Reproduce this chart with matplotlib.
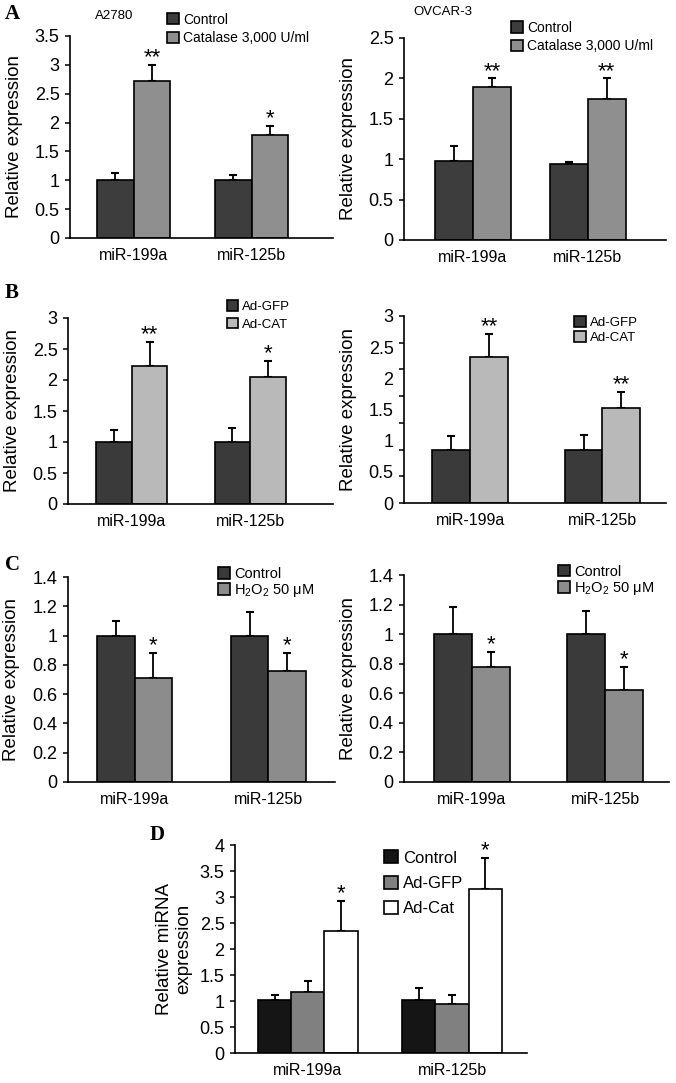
import numpy as np
import matplotlib
matplotlib.use('Agg')
import matplotlib.pyplot as plt

plt.rcParams['font.family'] = ['Liberation Sans', 'DejaVu Sans']
plt.rcParams['mathtext.fontset'] = 'custom'
plt.rcParams['mathtext.rm'] = 'Liberation Sans'
plt.rcParams['mathtext.it'] = 'Liberation Sans:italic'

# data
groups = ['miR-199a', 'miR-125b']

# A - catalase treatment
a2780_ctrl = [1.0, 1.0]
a2780_ctrl_err = [0.13, 0.10]
a2780_cat = [2.72, 1.79]
a2780_cat_err = [0.28, 0.15]
a2780_stars = ['**', '*']

ovcar_ctrl = [0.98, 0.94]
ovcar_ctrl_err = [0.18, 0.02]
ovcar_cat = [1.89, 1.74]
ovcar_cat_err = [0.11, 0.26]
ovcar_stars = ['**', '**']

# B - adenoviral catalase
b_left_gfp = [1.0, 1.0]
b_left_gfp_err = [0.20, 0.22]
b_left_cat = [2.23, 2.05]
b_left_cat_err = [0.38, 0.26]
b_left_stars = ['**', '*']

b_right_gfp = [1.0, 1.0]
b_right_gfp_err = [0.245, 0.28]
b_right_cat = [2.73, 1.78]
b_right_cat_err = [0.43, 0.30]
b_right_stars = ['**', '**']
b_right_ylabels = [0, 0.5, 1, 1.5, 2, 2.5, 3]

# C - H2O2
c_left_ctrl = [1.0, 1.0]
c_left_ctrl_err = [0.10, 0.16]
c_left_h2o2 = [0.71, 0.76]
c_left_h2o2_err = [0.17, 0.12]
c_left_stars = ['*', '*']

c_right_ctrl = [1.0, 1.0]
c_right_ctrl_err = [0.185, 0.155]
c_right_h2o2 = [0.78, 0.625]
c_right_h2o2_err = [0.10, 0.155]
c_right_stars = ['*', '*']

# D
d_ctrl = [1.01, 1.01]
d_ctrl_err = [0.11, 0.24]
d_gfp = [1.17, 0.95]
d_gfp_err = [0.22, 0.17]
d_cat = [2.35, 3.15]
d_cat_err = [0.57, 0.60]
d_stars = ['*', '*']

W, H = 676, 1083
fig = plt.figure(figsize=(W / 100, H / 100), dpi=100)


def px_axes(l, t, r, b):
    return fig.add_axes([l / W, 1 - b / H, (r - l) / W, (b - t) / H])


def draw_panel(ax, series, errs, colors, labels, stars, star_idx,
               width, xlim, ymax, ystep, leg_xy, leg_fs=10, leg_sp=0.25,
               ylabel='Relative expression', ylabel_x=-0.178,
               fake_labels=None):
    x = np.arange(len(groups))
    n = len(series)
    offsets = (np.arange(n) - (n - 1) / 2) * width
    bars = []
    for vals, err, col, lab, off in zip(series, errs, colors, labels, offsets):
        b = ax.bar(x + off, vals, width, color=col, edgecolor='black',
                   linewidth=1.2, label=lab, zorder=2)
        ax.errorbar(x + off, vals, yerr=[np.zeros(len(vals)), err], fmt='none',
                    ecolor='black', elinewidth=1.3, capsize=3, capthick=1.5,
                    zorder=1)
        bars.append(b)
    top = np.array(series[star_idx]) + np.array(errs[star_idx])
    for xi, t, s in zip(x + offsets[star_idx], top, stars):
        ax.annotate(s, xy=(xi, t), xytext=(0, -2.5), textcoords='offset points',
                    ha='center', va='bottom', fontsize=16)

    ax.set_xlim(*xlim)
    ax.set_ylim(0, ymax)
    ticks = np.arange(0, ymax + 1e-9, ystep)
    ax.set_yticks(ticks)
    if fake_labels is None:
        ax.set_yticklabels([f'{v:g}' for v in ticks])
    else:
        # tick labels in the original are spread evenly, not on the ticks
        ax.yaxis.remove_overlapping_locs = False
        ax.set_yticklabels([])
        pos = np.linspace(0, ymax, len(fake_labels))
        ax.set_yticks(pos, minor=True)
        ax.set_yticklabels([f'{v:g}' for v in fake_labels], minor=True)
        ax.tick_params(axis='y', which='minor', length=0, pad=7.5, labelsize=13)
    ax.set_xticks(x)
    ax.set_xticklabels(groups)
    ax.tick_params(axis='x', length=0, pad=7, labelsize=11.5)
    ax.tick_params(axis='y', which='major', direction='out', length=3.5,
                   width=1.1, pad=4, labelsize=13)
    for s in ['top', 'right']:
        ax.spines[s].set_visible(False)
    for s in ['left', 'bottom']:
        ax.spines[s].set_linewidth(1.2)
    ax.set_ylabel(ylabel, fontsize=13.5)
    ax.yaxis.set_label_coords(ylabel_x, 0.5)
    ax.legend(handles=bars, loc='upper left', bbox_to_anchor=leg_xy,
              frameon=False, fontsize=leg_fs, handlelength=0.85,
              handleheight=0.85, handletextpad=0.3, labelspacing=leg_sp,
              borderpad=0, borderaxespad=0)


h2o2_label = 'H$_2$O$_2$ 50 \u03bcM'

# A
ax = px_axes(70, 36, 333, 238)
draw_panel(ax, [a2780_ctrl, a2780_cat], [a2780_ctrl_err, a2780_cat_err],
           ['#3d3d3d', '#8f8f8f'], ['Control', 'Catalase 3,000 U/ml'],
           a2780_stars, 1, 0.31, (-0.54, 1.69), 3.5, 0.5, (0.37, 1.115),
           leg_sp=0.3)
ax.text(0.095, 1.10, 'A2780', transform=ax.transAxes, fontsize=9.5,
        ha='left', va='center')

ax = px_axes(404, 38, 666, 240)
draw_panel(ax, [ovcar_ctrl, ovcar_cat], [ovcar_ctrl_err, ovcar_cat_err],
           ['#3d3d3d', '#8f8f8f'], ['Control', 'Catalase 3,000 U/ml'],
           ovcar_stars, 1, 0.33, (-0.6, 1.68), 2.5, 0.5, (0.41, 1.085),
           leg_sp=0.3)
ax.text(0.035, 1.13, 'OVCAR-3', transform=ax.transAxes, fontsize=9.5,
        ha='left', va='center')

# B
ax = px_axes(68, 318, 333, 504)
draw_panel(ax, [b_left_gfp, b_left_cat], [b_left_gfp_err, b_left_cat_err],
           ['#3a3a3a', '#b9b9b9'], ['Ad-GFP', 'Ad-CAT'],
           b_left_stars, 1, 0.30, (-0.54, 1.70), 3.0, 0.5, (0.60, 1.095),
           leg_fs=9.5, leg_sp=0.35)

ax = px_axes(404, 316, 666, 503)
draw_panel(ax, [b_right_gfp, b_right_cat], [b_right_gfp_err, b_right_cat_err],
           ['#3a3a3a', '#b9b9b9'], ['Ad-GFP', 'Ad-CAT'],
           b_right_stars, 1, 0.285, (-0.5, 1.48), 3.5, 0.5, (0.65, 1.0),
           leg_fs=9.5, leg_sp=0.2, fake_labels=b_right_ylabels)

# C
ax = px_axes(68, 577, 335, 782)
draw_panel(ax, [c_left_ctrl, c_left_h2o2], [c_left_ctrl_err, c_left_h2o2_err],
           ['#3a3a3a', '#8c8c8c'], ['Control', h2o2_label],
           c_left_stars, 1, 0.28, (-0.5, 1.5), 1.4, 0.2, (0.56, 1.05),
           leg_fs=10.5, leg_sp=0.1)

ax = px_axes(404, 575, 669, 782)
draw_panel(ax, [c_right_ctrl, c_right_h2o2], [c_right_ctrl_err, c_right_h2o2_err],
           ['#3a3a3a', '#8c8c8c'], ['Control', h2o2_label],
           c_right_stars, 1, 0.285, (-0.51, 1.48), 1.4, 0.2, (0.58, 1.05),
           leg_fs=10.5, leg_sp=0.1)

# D
ax = px_axes(235, 845, 527, 1053)
draw_panel(ax, [d_ctrl, d_gfp, d_cat], [d_ctrl_err, d_gfp_err, d_cat_err],
           ['#151515', '#808080', 'white'], ['Control', 'Ad-GFP', 'Ad-Cat'],
           d_stars, 2, 0.23, (-0.505, 1.52), 4.0, 0.5, (0.51, 0.975),
           leg_fs=12, leg_sp=0.6, ylabel='Relative miRNA\nexpression',
           ylabel_x=-0.145)

# panel letters
for letter, (lx, ly) in zip('ABCD', [(5, 14), (5, 293), (5, 565), (150, 835)]):
    fig.text(lx / W, 1 - ly / H, letter, fontsize=15, fontweight='bold',
             family='Liberation Serif', ha='left', va='center')

fig.savefig('out.png', dpi=100)
